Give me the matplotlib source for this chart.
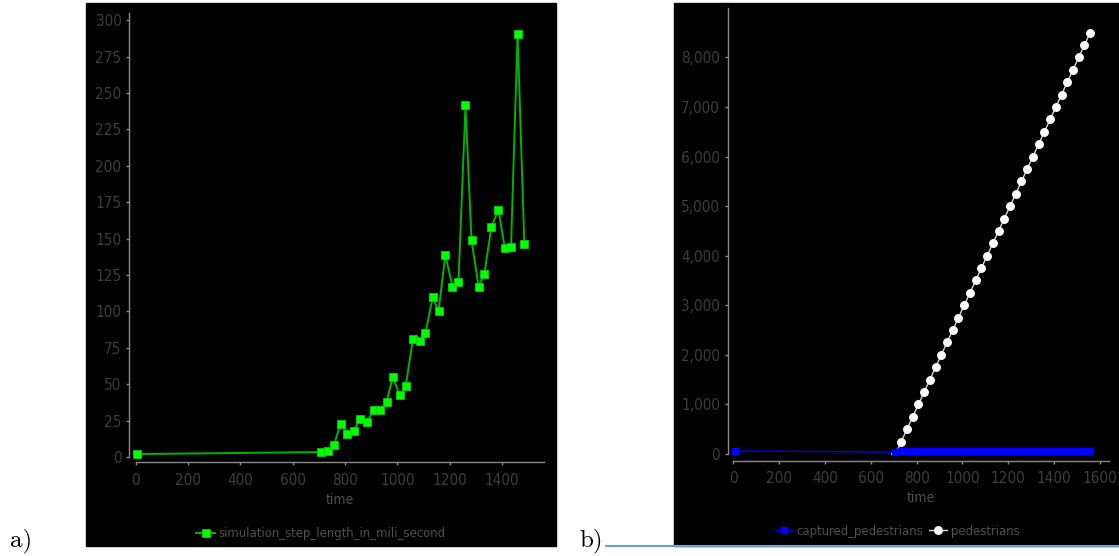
import matplotlib
matplotlib.use("Agg")
import matplotlib.pyplot as plt
from matplotlib.patches import Rectangle
from matplotlib.lines import Line2D
from matplotlib.ticker import FuncFormatter

# a) simulation step length (ms) over time
step_time = [6, 708, 734, 757, 783, 808, 833, 856, 883, 909, 932, 959, 982, 1009,
             1032, 1059, 1085, 1107, 1135, 1157, 1183, 1210, 1233, 1260, 1283, 1310,
             1332, 1359, 1386, 1410, 1434, 1459, 1485]
step_len = [2, 3.4, 4, 8, 23, 16, 18, 26, 24, 32, 32, 38, 55, 42.5,
            49, 81, 80, 85, 110, 100, 139, 117, 120, 241.5, 149, 117,
            125.5, 158, 170, 143.5, 144.5, 290.5, 146]

# b) pedestrians and captured pedestrians over time
ped_time = [708, 733, 758, 783, 808, 833, 858, 883, 908, 933, 958, 983, 1008, 1033,
            1058, 1083, 1108, 1133, 1158, 1183, 1208, 1233, 1258, 1283, 1308, 1333,
            1358, 1383, 1408, 1433, 1458, 1483, 1508, 1533, 1558]
pedestrians = [0, 250, 500, 750, 1000, 1250, 1500, 1750, 2000, 2250, 2500, 2750, 3000, 3250,
               3500, 3750, 4000, 4250, 4500, 4750, 5000, 5250, 5500, 5750, 6000, 6250,
               6500, 6750, 7000, 7250, 7500, 7750, 8000, 8250, 8500]
cap_time = [6, 708, 733, 758, 783, 808, 833, 858, 883, 908, 933, 958, 983, 1008, 1033,
            1058, 1083, 1108, 1133, 1158, 1183, 1208, 1233, 1258, 1283, 1308, 1333,
            1358, 1383, 1408, 1433, 1458, 1483, 1508, 1533, 1558]
captured = [60, 40, 60, 60, 60, 60, 60, 60, 60, 60, 60, 60, 60, 60, 60,
            60, 60, 60, 60, 60, 60, 60, 60, 60, 60, 60, 60,
            60, 60, 60, 60, 60, 60, 60, 60, 60]

W, H = 1119, 556
TICK_C = "#3e3e3e"
AXIS_C = "#8a8a8a"
LAB_C = "#505050"
FONT = dict(family="DejaVu Sans", stretch="condensed")


def fx(px):
    return px / W


def fy(py):
    return (H - py) / H


def style_axes(ax, off_left, off_bottom):
    ax.patch.set_alpha(0)
    for s in ["top", "right"]:
        ax.spines[s].set_visible(False)
    ax.spines["left"].set_position(("outward", off_left))
    ax.spines["bottom"].set_position(("outward", off_bottom))
    for s in ["left", "bottom"]:
        ax.spines[s].set_color(AXIS_C)
        ax.spines[s].set_linewidth(1.0)
    ax.tick_params(colors=AXIS_C, labelcolor=TICK_C, length=2.5, width=1.0,
                   labelsize=11, pad=3)
    ax.tick_params(axis="x", pad=5)
    for lab in ax.get_xticklabels() + ax.get_yticklabels():
        lab.set_fontfamily(FONT["family"])
        lab.set_fontstretch(FONT["stretch"])


fig = plt.figure(figsize=(W / 100, H / 100), dpi=100)
fig.patch.set_facecolor("white")

# black chart panels and the underline next to b)
fig.patches.append(Rectangle((fx(86), fy(546)), fx(556) - fx(86), fy(3) - fy(546),
                             transform=fig.transFigure, color="black", zorder=-2))
fig.patches.append(Rectangle((fx(674), fy(546)), fx(1119) - fx(674), fy(3) - fy(546),
                             transform=fig.transFigure, color="black", zorder=-2))
fig.lines.append(Line2D([fx(606), fx(1119)], [fy(546), fy(546)], transform=fig.transFigure,
                        color="#6c9ddc", lw=1.5, zorder=-1))

# ---- a) ----
ax1 = fig.add_axes([fx(135.7), fy(457), fx(544) - fx(135.7), fy(13) - fy(457)])
ax1.plot(step_time, step_len, color="#00b400", lw=1.4, marker="s", markersize=6,
         markerfacecolor="#00ff00", markeredgecolor="#00d000", markeredgewidth=0.6,
         label="simulation_step_length_in_mili_second", clip_on=False)
ax1.set_xlim(0, 1560)
ax1.set_ylim(0, 305)
ax1.set_xticks(range(0, 1401, 200))
ax1.set_yticks(range(0, 301, 25))
style_axes(ax1, 4.8, 3.8)
fig.text(fx(340), fy(500), "time", color=LAB_C, fontsize=10, ha="center", va="center", **FONT)
h1, l1 = ax1.get_legend_handles_labels()
fig.legend(h1, l1, loc="center", bbox_to_anchor=(fx(321), fy(534)), frameon=False,
           handlelength=1.4, handletextpad=0.3, prop=dict(size=9.4, **FONT),
           labelcolor=LAB_C)

# ---- b) ----
ax2 = fig.add_axes([fx(733.3), fy(454), fx(1109) - fx(733.3), fy(8.3) - fy(454)])
ax2.plot(ped_time, pedestrians, color="#d8d8d8", lw=1.0, marker="o", markersize=5.4,
         markerfacecolor="white", markeredgecolor="white", label="pedestrians", zorder=2)
ax2.plot(cap_time, captured, color="#0000ff", lw=1.0, marker="s", markersize=4.2,
         markerfacecolor="#0000ff", markeredgecolor="#0000ff", label="captured_pedestrians",
         zorder=3, clip_on=False)
ax2.set_xlim(0, 1640)
ax2.set_ylim(0, 8990)
ax2.set_xticks(range(0, 1601, 200))
ax2.set_yticks(range(0, 8001, 1000))
ax2.yaxis.set_major_formatter(FuncFormatter(lambda v, p: f"{v:,.0f}"))
style_axes(ax2, 4.0, 4.8)
fig.text(fx(921), fy(498), "time", color=LAB_C, fontsize=10, ha="center", va="center", **FONT)
h2, l2 = ax2.get_legend_handles_labels()
fig.legend(h2[::-1], l2[::-1], loc="center", bbox_to_anchor=(fx(897), fy(531)),
           frameon=False, ncol=2, handlelength=1.4, handletextpad=0.3, columnspacing=0.4,
           prop=dict(size=9.4, **FONT), labelcolor=LAB_C)

fig.text(fx(21), fy(541), "a)", fontsize=18, family="cmr10", ha="center", va="center")
fig.text(fx(591), fy(541), "b)", fontsize=18, family="cmr10", ha="center", va="center")

fig.savefig("out.png", dpi=100, facecolor="white")
